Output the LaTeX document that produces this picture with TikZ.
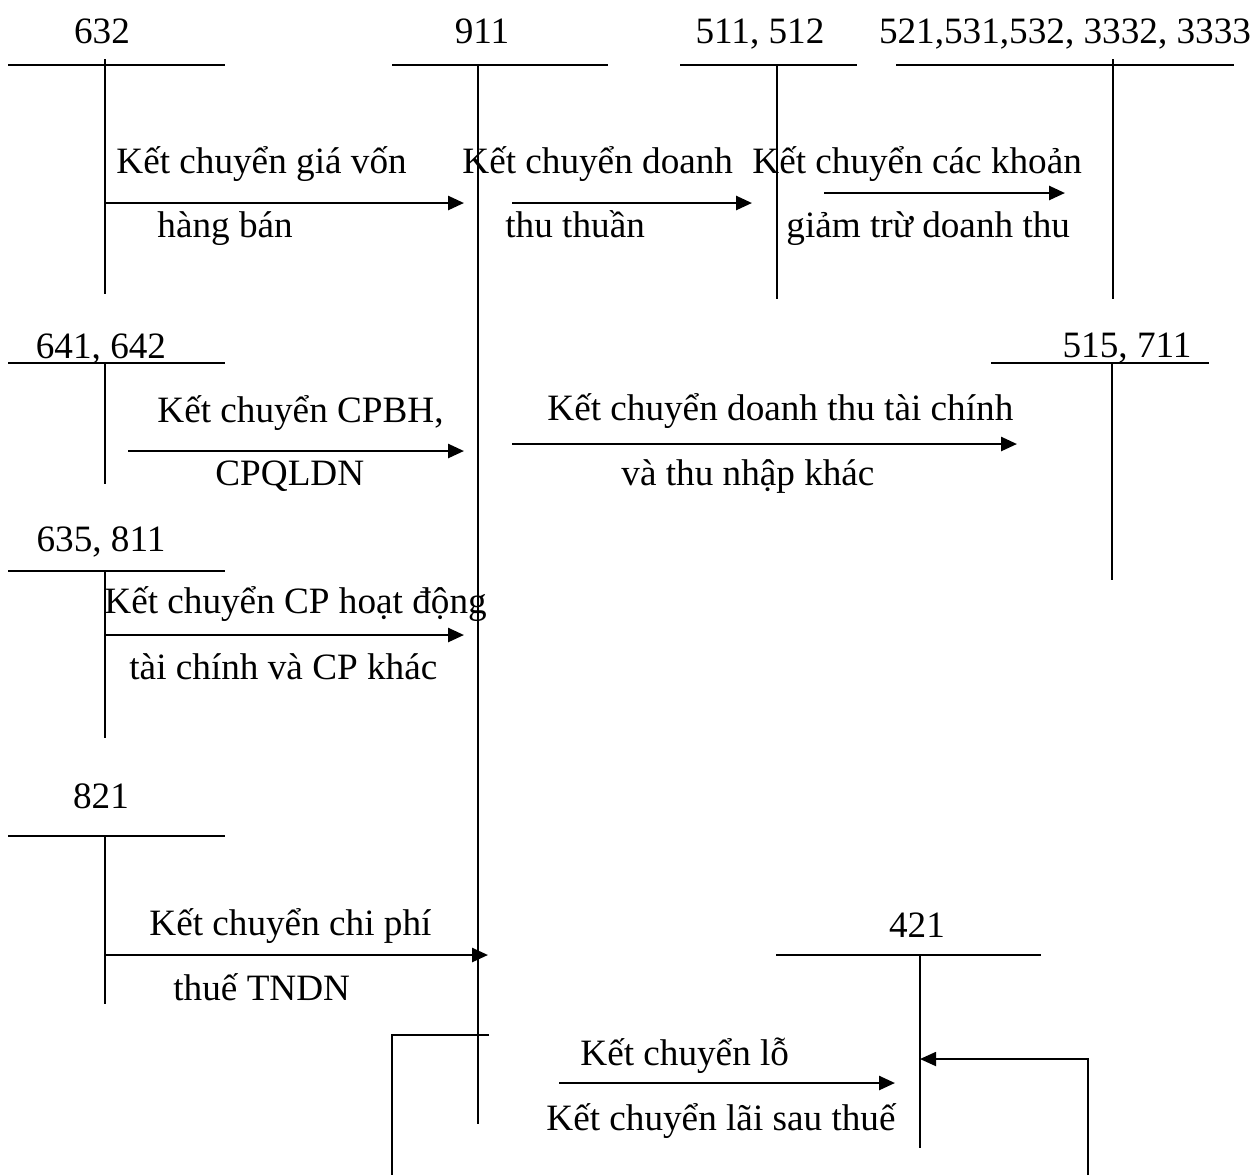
\documentclass[tikz,border=0pt]{standalone}
\usepackage{fontspec}
\setmainfont{Liberation Serif}
\usetikzlibrary{positioning, arrows.meta}
\tikzset{
  acct/.style  = {inner sep=0pt, anchor=base, font=\fontsize{18.6}{22}\selectfont},
  note/.style  = {inner sep=0pt, anchor=base west, font=\fontsize{18.6}{22}\selectfont},
  tline/.style = {line width=0.75pt, draw=black},
  ar/.style    = {-{Triangle[length=8pt,width=7pt]}, line width=1.3pt, draw=black},
}
\begin{document}
\begin{tikzpicture}[x=0.5pt, y=-0.5pt]
  \useasboundingbox (0,0) rectangle (1259,1175);

  % T accounts: title, top line, stem
  \node[acct] (t632) at (102,43) {632};
  \coordinate (h632w) at (8,65);   \coordinate (h632e) at (225,65);
  \coordinate (v632n) at (105,59); \coordinate (v632s) at (105,294);
  \draw[tline] (h632w) -- (h632e);
  \draw[tline] (v632n) -- (v632s);

  \node[acct] (t911) at (482,43) {911};
  \coordinate (h911w) at (392,65); \coordinate (h911e) at (608,65);
  \coordinate (v911n) at (478,65); \coordinate (v911s) at (478,1124);
  \draw[tline] (h911w) -- (h911e);
  \draw[tline] (v911n) -- (v911s);

  \node[acct] (t511) at (760,43) {511, 512};
  \coordinate (h511w) at (680,65); \coordinate (h511e) at (857,65);
  \coordinate (v511n) at (777,65); \coordinate (v511s) at (777,299);
  \draw[tline] (h511w) -- (h511e);
  \draw[tline] (v511n) -- (v511s);

  \node[acct] (t521) at (1065,43) {521,531,532, 3332, 3333};
  \coordinate (h521w) at (896,65);  \coordinate (h521e) at (1234,65);
  \coordinate (v521n) at (1113,59); \coordinate (v521s) at (1113,299);
  \draw[tline] (h521w) -- (h521e);
  \draw[tline] (v521n) -- (v521s);

  \node[acct] (t641) at (101,358) {641, 642};
  \coordinate (h641w) at (8,363);   \coordinate (h641e) at (225,363);
  \coordinate (v641n) at (105,363); \coordinate (v641s) at (105,484);
  \draw[tline] (h641w) -- (h641e);
  \draw[tline] (v641n) -- (v641s);

  \node[acct] (t515) at (1127,357) {515, 711};
  \coordinate (h515w) at (991,363);  \coordinate (h515e) at (1209,363);
  \coordinate (v515n) at (1112,363); \coordinate (v515s) at (1112,580);
  \draw[tline] (h515w) -- (h515e);
  \draw[tline] (v515n) -- (v515s);

  \node[acct] (t635) at (101,551) {635, 811};
  \coordinate (h635w) at (8,571);   \coordinate (h635e) at (225,571);
  \coordinate (v635n) at (105,571); \coordinate (v635s) at (105,738);
  \draw[tline] (h635w) -- (h635e);
  \draw[tline] (v635n) -- (v635s);

  \node[acct] (t821) at (101,808) {821};
  \coordinate (h821w) at (8,836);   \coordinate (h821e) at (225,836);
  \coordinate (v821n) at (105,836); \coordinate (v821s) at (105,1004);
  \draw[tline] (h821w) -- (h821e);
  \draw[tline] (v821n) -- (v821s);

  \node[acct] (t421) at (917,937) {421};
  \coordinate (h421w) at (776,955); \coordinate (h421e) at (1041,955);
  \coordinate (v421n) at (920,955); \coordinate (v421s) at (920,1148);
  \draw[tline] (h421w) -- (h421e);
  \draw[tline] (v421n) -- (v421s);

  % transfers
  \coordinate (a1s) at (105,203);  \coordinate (a1e) at (464,203);
  \draw[ar] (a1s) -- (a1e);
  \node[note] (n1a) at (116,173) {Kết chuyển giá vốn};
  \node[note] (n1b) at (157,237) {hàng bán};

  \coordinate (a2s) at (512,203);  \coordinate (a2e) at (752,203);
  \draw[ar] (a2s) -- (a2e);
  \node[note] (n2a) at (462,173) {Kết chuyển doanh};
  \node[note] (n2b) at (505,237) {thu thuần};

  \coordinate (a3s) at (824,193);  \coordinate (a3e) at (1065,193);
  \draw[ar] (a3s) -- (a3e);
  \node[note] (n3a) at (752,173) {Kết chuyển các khoản};
  \node[note] (n3b) at (786,237) {giảm trừ doanh thu};

  \coordinate (a4s) at (128,451);  \coordinate (a4e) at (464,451);
  \draw[ar] (a4s) -- (a4e);
  \node[note] (n4a) at (157,422) {Kết chuyển CPBH,};
  \node[note] (n4b) at (215,485) {CPQLDN};

  \coordinate (a5s) at (512,444);  \coordinate (a5e) at (1017,444);
  \draw[ar] (a5s) -- (a5e);
  \node[note] (n5a) at (547,420) {Kết chuyển doanh thu tài chính};
  \node[note] (n5b) at (621,485) {và thu nhập khác};

  \coordinate (a6s) at (105,635);  \coordinate (a6e) at (464,635);
  \draw[ar] (a6s) -- (a6e);
  \node[note] (n6a) at (104,613) {Kết chuyển CP hoạt động};
  \node[note] (n6b) at (129,679) {tài chính và CP khác};

  \coordinate (a7s) at (105,955);  \coordinate (a7e) at (488,955);
  \draw[ar] (a7s) -- (a7e);
  \node[note] (n7a) at (149,935) {Kết chuyển chi phí};
  \node[note] (n7b) at (173,1000) {thuế TNDN};

  \coordinate (a8s) at (559,1083); \coordinate (a8e) at (895,1083);
  \draw[ar] (a8s) -- (a8e);
  \node[note] (n8a) at (580,1065) {Kết chuyển lỗ};
  \node[note] (n8b) at (546,1130) {Kết chuyển lãi sau thuế};

  % brackets at the foot
  \coordinate (b1a) at (489,1035); \coordinate (b1b) at (392,1035);
  \coordinate (b1c) at (392,1175);
  \draw[tline] (b1a) -- (b1b) -- (b1c);

  \coordinate (b2a) at (1088,1175); \coordinate (b2b) at (1088,1059);
  \coordinate (b2c) at (920,1059);
  \draw[ar, line width=0.9pt] (b2a) -- (b2b) -- (b2c);

\end{tikzpicture}
\end{document}
